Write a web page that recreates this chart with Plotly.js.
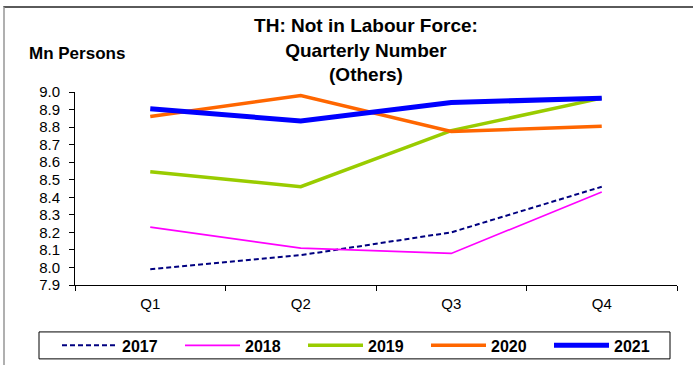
<!DOCTYPE html>
<html>
<head>
<meta charset="utf-8">
<script src="https://cdn.plot.ly/plotly-3.0.1.min.js"></script>
<style>
html, body { margin: 0; padding: 0; background: #fff; }
#wrap { position: relative; width: 693px; height: 365px; overflow: hidden; }
#chart { width: 693px; height: 365px; }
#frame { position: absolute; left: 3px; top: 6px; right: -10px; bottom: -10px;
  border-top: 2px solid #5a5a5a; border-left: 2px solid #b0b0b0; pointer-events: none; }
</style>
</head>
<body>
<div id="wrap">
<div id="chart"></div>
<div id="frame"></div>
</div>
<script>
const quarters = ["Q1", "Q2", "Q3", "Q4"];
const years = ["2017", "2018", "2019", "2020", "2021"];
const v2017 = [7.99, 8.07, 8.20, 8.46];
const v2018 = [8.23, 8.11, 8.08, 8.43];
const v2019 = [8.545, 8.46, 8.78, 8.965];
const v2020 = [8.86, 8.98, 8.775, 8.805];
const v2021 = [8.905, 8.835, 8.94, 8.965];
const yTicks = [7.9, 8.0, 8.1, 8.2, 8.3, 8.4, 8.5, 8.6, 8.7, 8.8, 8.9, 9.0];

const series = [v2017, v2018, v2019, v2020, v2021];
const colors = ["#000080", "#FF00FF", "#99CC00", "#FF6600", "#0000FF"];
const widths = [2, 1.6, 3.5, 3.5, 5];
const dashes = ["5px,3px", "solid", "solid", "solid", "solid"];

const data = series.map((vals, i) => ({
  type: "scatter",
  mode: "lines",
  name: years[i],
  x: quarters,
  y: vals,
  line: { color: colors[i], width: widths[i], dash: dashes[i] },
  hoverinfo: "skip"
}));

const font = "Arial, 'Liberation Sans', sans-serif";
const plotW = 602, plotH = 193.3, plotL = 75, plotB = 285;
const px = (x) => (x - plotL) / plotW;
const py = (y) => (plotB - y) / plotH;

const layout = {
  width: 693,
  height: 365,
  margin: { l: 75, r: 16, t: 92, b: 80, autoexpand: false },
  paper_bgcolor: "#fff",
  plot_bgcolor: "#fff",
  showlegend: true,
  title: {
    text: "<b>TH: Not in Labour Force:<br>Quarterly Number<br>(Others)</b>",
    font: { family: font, size: 19, color: "#000" },
    xref: "container", x: 366 / 693, xanchor: "center",
    yref: "container", y: 1 - 32 / 365, yanchor: "top"
  },
  xaxis: {
    type: "category",
    range: [-0.5, 3.5],
    showgrid: false,
    zeroline: false,
    showline: true,
    linecolor: "#000",
    linewidth: 1,
    ticks: "outside",
    tickson: "boundaries",
    ticklen: 5,
    tickcolor: "#000",
    tickfont: { family: font, size: 15, color: "#000" },
    ticklabelstandoff: 5,
    fixedrange: true
  },
  yaxis: {
    range: [7.9, 9.0],
    tickvals: yTicks,
    tickformat: ".1f",
    showgrid: false,
    zeroline: false,
    showline: true,
    linecolor: "#000",
    linewidth: 1,
    ticks: "outside",
    ticklen: 5,
    tickcolor: "#000",
    tickfont: { family: font, size: 15, color: "#000" },
    ticklabelstandoff: 6,
    fixedrange: true
  },
  legend: {
    orientation: "h",
    xref: "paper", x: px(57), xanchor: "left",
    yref: "paper", y: py(328.5), yanchor: "top",
    borderwidth: 0,
    bgcolor: "rgba(0,0,0,0)",
    font: { family: font, size: 16, color: "#000", weight: "bold" },
    itemwidth: 55,
    entrywidth: 53,
    entrywidthmode: "pixels",
    itemclick: false,
    itemdoubleclick: false
  },
  shapes: [{
    type: "rect", xref: "paper", yref: "paper",
    x0: px(39), x1: px(670), y0: py(359), y1: py(332),
    line: { color: "#000", width: 1 }, fillcolor: "rgba(0,0,0,0)",
    layer: "below"
  }],
  annotations: [{
    text: "<b>Mn Persons</b>",
    xref: "paper", yref: "paper",
    x: px(27), xanchor: "left",
    y: py(53), yanchor: "middle",
    showarrow: false,
    font: { family: font, size: 17, color: "#000" }
  }]
};

Plotly.newPlot("chart", data, layout, { displayModeBar: false, staticPlot: true });
</script>
</body>
</html>
